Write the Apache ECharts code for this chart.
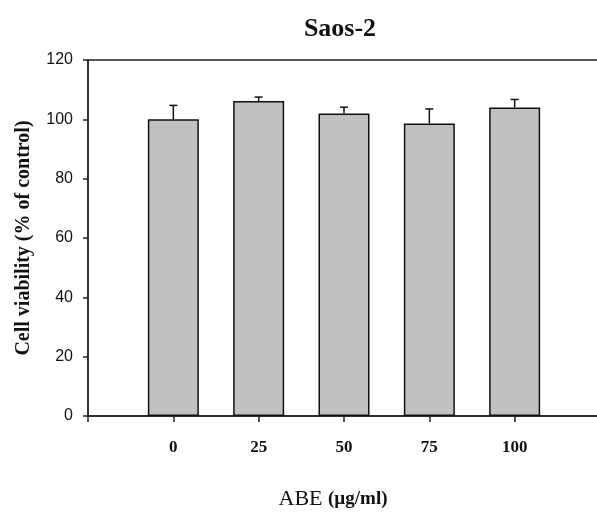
<!DOCTYPE html>
<html>
<head>
<meta charset="utf-8">
<script src="https://cdn.jsdelivr.net/npm/echarts@6/dist/echarts.min.js"></script>
<style>
    html, body { margin: 0; padding: 0; background: #fff; }
    #main { width: 597px; height: 516px; }
</style>
</head>
<body>
<div id="main"></div>
<script>
// concentrations of ABE (ug/ml), padded with empty slots at each end
var doses = ['', '0', '25', '50', '75', '100', ''];
var viability = ['-', 100, 106.2, 102, 98.6, 104, '-'];
var errorUp = [0, 4.7, 1.3, 2.1, 4.9, 2.7, 0];
var yTicks = [0, 20, 40, 60, 80, 100, 120];

var chartDom = document.getElementById('main');
var myChart = echarts.init(chartDom);
var option;

var errData = [];
for (var i = 0; i < doses.length; i++) {
    if (viability[i] !== '-') {
        errData.push([i, viability[i], viability[i] + errorUp[i]]);
    }
}

option = {
    animation: false,
    title: {
        text: 'Saos-2',
        left: 335,
        textAlign: 'center',
        top: 11,
        textStyle: {
            fontFamily: 'Liberation Serif',
            fontWeight: 'bold',
            fontSize: 26,
            color: '#111'
        }
    },
    grid: {
        left: 88,
        top: 60,
        width: 512,
        height: 356,
        outerBoundsMode: 'none',
        show: true,
        borderColor: '#222',
        borderWidth: 1.5
    },
    xAxis: {
        type: 'category',
        data: doses,
        boundaryGap: false,
        axisLine: { lineStyle: { color: '#222', width: 1.5 } },
        axisTick: { length: 6, lineStyle: { color: '#222', width: 1.5 } },
        axisLabel: {
            margin: 23,
            fontFamily: 'Liberation Serif',
            fontWeight: 'bold',
            fontSize: 17,
            color: '#111'
        },
        splitLine: { show: false },
        name: '{a|ABE }{b|(µg/ml)}',
        nameLocation: 'middle',
        nameGap: 72,
        nameTextStyle: {
            padding: [0, 22, 0, 0],
            rich: {
                a: { fontFamily: 'Liberation Serif', fontSize: 22, color: '#111' },
                b: { fontFamily: 'Liberation Serif', fontWeight: 'bold', fontSize: 19, color: '#111' }
            }
        }
    },
    yAxis: {
        type: 'value',
        min: yTicks[0],
        max: yTicks[yTicks.length - 1],
        interval: 20,
        axisLine: { show: true, lineStyle: { color: '#222', width: 1.5 } },
        axisTick: { show: true, length: 5, lineStyle: { color: '#222', width: 1.5 } },
        axisLabel: {
            margin: 15,
            fontFamily: 'Liberation Sans',
            fontSize: 16,
            color: '#111'
        },
        splitLine: { show: false },
        name: 'Cell viability (% of control)',
        nameLocation: 'middle',
        nameGap: 54,
        nameTextStyle: {
            fontFamily: 'Liberation Serif',
            fontWeight: 'bold',
            fontSize: 20,
            color: '#111'
        }
    },
    series: [
        {
            type: 'bar',
            data: viability,
            barWidth: 51,
            itemStyle: {
                color: '#c0c0c0',
                borderColor: '#111',
                borderWidth: 1.5
            }
        },
        {
            type: 'custom',
            data: errData,
            z: 1,
            renderItem: function (params, api) {
                var top = api.coord([api.value(0), api.value(2)]);
                var base = api.coord([api.value(0), api.value(1)]);
                var style = { stroke: '#111', lineWidth: 1.5 };
                return {
                    type: 'group',
                    children: [
                        { type: 'line', shape: { x1: base[0], y1: base[1], x2: top[0], y2: top[1] }, style: style },
                        { type: 'line', shape: { x1: top[0] - 4, y1: top[1], x2: top[0] + 4, y2: top[1] }, style: style }
                    ]
                };
            }
        }
    ]
};

option && myChart.setOption(option);
</script>
</body>
</html>
